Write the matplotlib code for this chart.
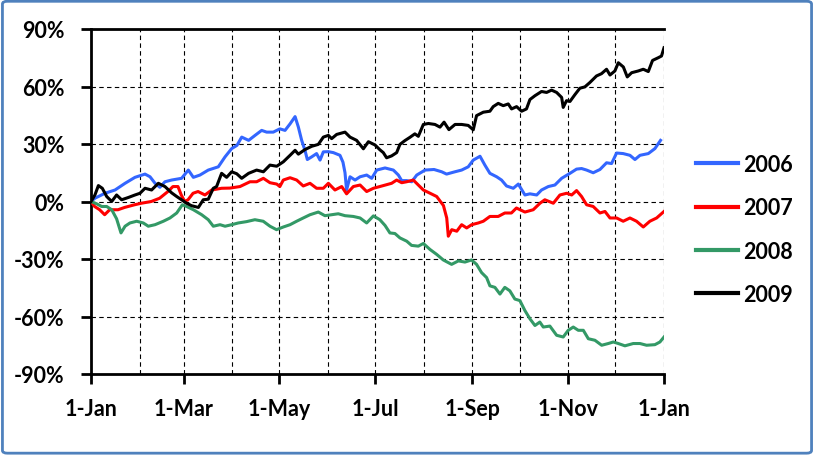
import matplotlib
matplotlib.use("Agg")
import matplotlib.pyplot as plt
from matplotlib.patches import FancyBboxPatch
from matplotlib.ticker import FuncFormatter, FixedLocator

# ---------------- data (day of year, cumulative return %) ----------------
days_2006 = [0, 2.5, 8.9, 15.3, 21.7, 28.0, 34.4, 37.6, 40.8, 43.9, 47.1, 51.4, 57.7, 62.0, 65.2, 69.4, 74.7,
             81.1, 85.4, 89.6, 93, 96, 100.4, 104.5, 108.7, 111.9, 116.1, 120.3, 123.6, 126.8, 130, 132.1, 134.2,
             136.3, 137.8, 140.6, 143.7, 145.9, 148, 151.2, 154.4, 158.6, 160.5, 161.8, 162.8, 165, 168.2, 171.4,
             175.6, 178.8, 182, 187.3, 192.6, 195.8, 197.9, 201.1, 204.3, 207.5, 212.8, 218.5, 223.4, 226.5,
             231.8, 236.1, 240.3, 243.5, 247.8, 250.9, 254.1, 258.4, 261.5, 264.7, 269, 272.2, 276.4, 279.6,
             283.9, 287, 291.3, 295.5, 299.8, 305.1, 309.3, 312.5, 315.7, 319.9, 324.2, 328.4, 331.6, 334.8,
             339, 343.3, 346.5, 349.7, 355, 359.2, 362.8]
vals_2006 = [0, 1.7, 4.3, 6.0, 9.5, 12.6, 14.3, 12.9, 9.5, 7.4, 10.3, 11.2, 12.1, 16.4, 12.6, 13.8, 16.4,
             18.1, 23.3, 27.6, 29.3, 33.6, 31.9, 34.5, 37.1, 36.2, 36.2, 37.9, 37.1, 40.5, 44.3, 38.8, 31.9,
             26.7, 21.9, 23.3, 25.0, 21.6, 25.9, 26.0, 25.5, 24.1, 20.5, 15.0, 6.0, 12.9, 11.2, 12.9,
             13.8, 12.1, 16.4, 17.5, 16.4, 13.8, 10.9, 10.9, 10.3, 13.8, 16.4, 16.7, 15.5, 14.3,
             15.5, 16.4, 18.1, 21.6, 23.6, 19.0, 14.7, 12.9, 11.2, 8.1, 6.9, 9.1, 3.4, 4.0,
             3.4, 6.0, 7.8, 8.6, 12.1, 14.7, 16.9, 17.2, 16.4, 15.0, 16.7, 20.2, 19.8, 25.3,
             25.0, 24.1, 21.9, 24.1, 25.0, 27.6, 31.9]

days_2007 = [0, 2.3, 5.5, 8.7, 11.9, 17.2, 21.4, 27.8, 32.1, 38.4, 43.7, 49, 52.2, 55.4, 57.5, 59.7, 61.8,
             65, 68.2, 72.6, 76.9, 83.2, 88.5, 94.9, 101.3, 105.5, 109.8, 114, 118.3, 120.3, 122.5,
             126.8, 131, 135.2, 139.5, 143.7, 148, 151.2, 155.4, 159.7, 162.8, 167.1, 171.4, 175.6, 179.9,
             186.2, 191.5, 194.7, 197.9, 201.1, 205.3, 208.5, 211.7, 216, 220.2, 224.5, 226.6, 227.6,
             229.8, 233, 236.1, 239.3, 242.5, 246.7, 249.9, 254.1, 259.4, 263.6, 267.8, 271, 276.4, 281.7,
             286, 289.1, 294.5, 298.7, 303, 306.2, 309.3, 312.5, 315.7, 319.9, 324.2, 327.4, 330.6, 334.8,
             339, 343.3, 347.5, 351.8, 356, 360.3, 365]
vals_2007 = [0, -2.6, -4.3, -6.9, -4.3, -4.3, -3.1, -1.7, -0.9, 0, 1.7, 5.2, 7.8, 7.8, 3.4, 0, 0.9,
             4.3, 5.2, 3.4, 6.0, 6.9, 7.0, 7.8, 10.3, 10.3, 12.1, 9.8, 9.1, 7.8, 11.2,
             12.4, 11.2, 8.1, 9.5, 6.9, 6.9, 9.5, 6.0, 7.8, 4.0, 7.8, 8.6, 5.2, 6.9,
             8.3, 9.5, 11.2, 9.8, 10.3, 11.2, 8.6, 6.0, 4.3, 2.6, -2.1, -8.6, -18.1,
             -14.7, -15.5, -12.1, -13.8, -12.1, -11.2, -10.3, -7.8, -7.8, -6.0, -6.0, -3.4, -5.5, -4.3,
             -0.9, 0.9, -0.9, 3.4, 4.3, 3.4, 5.7, 2.6, -1.7, -2.6, -6.0, -5.2, -8.6, -8.6,
             -10.3, -8.6, -10.3, -13.3, -10.3, -8.6, -5.2]

days_2008 = [0, 3.6, 6.8, 10, 13.2, 16.3, 19.1, 21.7, 24.8, 29.1, 33.3, 36.5, 40.8, 46.1, 50.3, 54.6, 58.2,
             60.9, 65.2, 70.5, 74.7, 77.9, 82.2, 85.4, 89.6, 93.8, 99.1, 104.4, 109.7, 114, 118.2, 122.5,
             126.8, 131, 135.2, 139.5, 144.8, 149, 153.3, 157.5, 161.8, 167.1, 171.4, 175.6, 179.9, 184,
             187.3, 190.4, 193.6, 196.8, 201.1, 204.2, 208.5, 211.7, 215.9, 220.2, 224.4, 229.7, 234, 238.2,
             242.4, 245.6, 248.8, 252, 254.1, 257.3, 260.5, 263.6, 266.8, 270, 273.2, 276.4, 279.6, 282.8,
             285.9, 288.1, 292.3, 296.6, 300.8, 304, 307.2, 310.4, 313.6, 316.8, 321, 325.3, 329.5, 332.7,
             335.9, 340.1, 345.4, 349.7, 353.9, 359.2, 362.4, 365]
vals_2008 = [0, -1.2, -2.6, -2.6, -4.3, -9.0, -16.4, -12.9, -11.2, -10.3, -11.2, -12.9, -12.1, -10.3, -8.6, -6.0, -1.7,
             -2.6, -4.3, -6.9, -9.5, -12.9, -12.1, -12.9, -12.1, -11.2, -10.5, -9.5, -10.3, -12.9, -14.7, -13.3,
             -12.1, -10.3, -8.6, -6.9, -5.5, -7.4, -6.9, -6.4, -7.4, -7.8, -8.6, -11.2, -7.5, -9.5,
             -12.5, -16.4, -16.7, -19.0, -20.7, -22.9, -23.3, -21.9, -25.0, -27.6, -30.5, -32.8, -31.0, -31.6,
             -30.5, -32.8, -37.1, -39.7, -44.0, -44.8, -48.3, -44.8, -46.6, -50.9, -51.7, -56.9, -61.2, -64.7,
             -62.9, -65.5, -65.0, -69.8, -70.7, -67.2, -65.5, -67.2, -67.2, -71.6, -72.4, -75.0, -74.1, -73.3,
             -74.1, -75.3, -74.1, -74.1, -75.0, -74.7, -73.3, -70.7]

days_2009 = [0, 2.5, 4.7, 7.2, 10, 13.2, 16.3, 19.5, 23.8, 28, 31.2, 34.4, 38.6, 42.9, 47.1, 51.4, 54.6, 57.7,
             60.9, 64.1, 68.4, 71.5, 74.7, 77.9, 80, 83.2, 86.4, 89.6, 92.8, 96, 100.4, 105.5, 109.8, 114,
             118.3, 122.5, 126.8, 130, 132.1, 136.3, 140.6, 144.8, 148, 151.2, 153.3, 156.5, 161.8, 165,
             169.2, 173.5, 176.7, 180.9, 184, 186.2, 188.3, 191.5, 194.7, 196.8, 200, 203.2, 206.3, 208.5,
             211.7, 214.9, 219.1, 222.3, 224.9, 228, 231.9, 236.1, 240.3, 243.5, 245.6, 249.9, 254.1, 256.2,
             259.4, 262.6, 265.8, 267.9, 271.1, 274.3, 277.4, 279.6, 282.8, 287, 290.2, 293.4, 296.6, 299.8,
             300.8, 302.9, 305.1, 308.2, 311.4, 314.6, 317.8, 322, 325.2, 328.4, 330.6, 333.7, 335.9, 339.1,
             341.6, 344.4, 348.6, 351.8, 355, 357.7, 361.3, 363.4, 365]
vals_2009 = [0, 3.4, 8.3, 6.9, 2.6, 0, 3.4, 0.9, 2.1, 3.4, 4.3, 6.9, 6.0, 9.5, 7.8, 4.5, 2.6, 0.9,
             -0.9, -2.2, -3.1, 0.9, 1.2, 6.9, 7.8, 14.7, 12.6, 15.5, 14.5, 12.1, 14.7, 16.4, 15.5, 19.0,
             18.4, 20.7, 24.1, 26.7, 24.7, 27.1, 28.8, 29.8, 33.6, 34.5, 32.8, 35.0, 36.2, 33.6,
             31.9, 27.5, 31.2, 29.5, 27.0, 25.5, 22.8, 23.8, 25.5, 29.8, 31.8, 33.5, 35.3, 34.0,
             40.2, 40.7, 40.2, 38.8, 41.4, 37.5, 40.2, 40.2, 39.7, 37.4, 44.8, 46.6, 47.1, 49.5,
             51.2, 50.0, 50.9, 48.3, 49.5, 47.1, 48.3, 53.2, 55.2, 57.4, 56.9, 58.1, 56.9, 54.3,
             49.1, 52.6, 52.2, 55.7, 59.1, 59.8, 62.1, 65.5, 66.7, 69.0, 66.0, 68.1, 72.4, 70.2,
             65.0, 67.2, 68.1, 69.0, 67.8, 73.6, 75.0, 75.9, 80.2]

series_names = ["2006", "2007", "2008", "2009"]
series_colors = ["#3366FF", "#FF0000", "#339966", "#000000"]

month_starts = [0, 31, 59, 90, 120, 151, 181, 212, 243, 273, 304, 334, 365]
xtick_pos = [0, 59, 120, 181, 243, 304, 365]
xtick_labels = ["1-Jan", "1-Mar", "1-May", "1-Jul", "1-Sep", "1-Nov", "1-Jan"]
ytick_vals = [-90, -60, -30, 0, 30, 60, 90]

# ---------------- figure ----------------
FONT = "Lato"
FS = 15.5
fig = plt.figure(figsize=(8.14, 4.56), dpi=100)
fig.patch.set_facecolor("white")

border = FancyBboxPatch((0.003, 0.004), 0.994, 0.991, boxstyle="round,pad=0,rounding_size=0.006",
                        transform=fig.transFigure, facecolor="none", edgecolor="#4F81BD", linewidth=2.0)
fig.patches.append(border)

ax = fig.add_axes([91 / 814, 1 - 375 / 456, (664 - 91) / 814, (375 - 30) / 456])

all_days = [days_2006, days_2007, days_2008, days_2009]
all_vals = [vals_2006, vals_2007, vals_2008, vals_2009]
for d, v, name, c in zip(all_days, all_vals, series_names, series_colors):
    ax.plot(d, v, color=c, lw=2.2, label=name, solid_joinstyle="round", zorder=3)

ax.set_xlim(0, 365)
ax.set_ylim(-90, 90)

# gridlines
for m in month_starts[1:]:
    ax.axvline(m, color="black", lw=0.8, ls=(0, (4, 3)), zorder=1)
for yv in ytick_vals[1:-1]:
    ax.axhline(yv, color="black", lw=0.8, ls=(0, (4, 3)), zorder=1)

ax.xaxis.set_major_locator(FixedLocator(xtick_pos))
ax.set_xticklabels(xtick_labels)
ax.yaxis.set_major_locator(FixedLocator(ytick_vals))
ax.yaxis.set_major_formatter(FuncFormatter(lambda v, p: f"{int(v)}%"))

for s in ["left", "bottom", "top"]:
    ax.spines[s].set_linewidth(2.0)
    ax.spines[s].set_color("black")
ax.spines["right"].set_visible(False)

ax.tick_params(axis="both", direction="out", length=7, width=2.0, color="black")
ax.tick_params(axis="x", pad=10)
ax.tick_params(axis="y", pad=12)
for lab in ax.get_xticklabels() + ax.get_yticklabels():
    lab.set_fontfamily(FONT)
    lab.set_fontweight("bold")
    lab.set_fontsize(FS)

leg = fig.legend(loc="upper left", bbox_to_anchor=(696 / 814, 1 - 155 / 456), frameon=False,
                 prop={"family": FONT, "weight": "bold", "size": FS},
                 handlelength=1.95, handletextpad=0.25, labelspacing=1.035, borderaxespad=0, borderpad=0)
for line in leg.get_lines():
    line.set_linewidth(3.0)

fig.savefig("out.png", dpi=100)
